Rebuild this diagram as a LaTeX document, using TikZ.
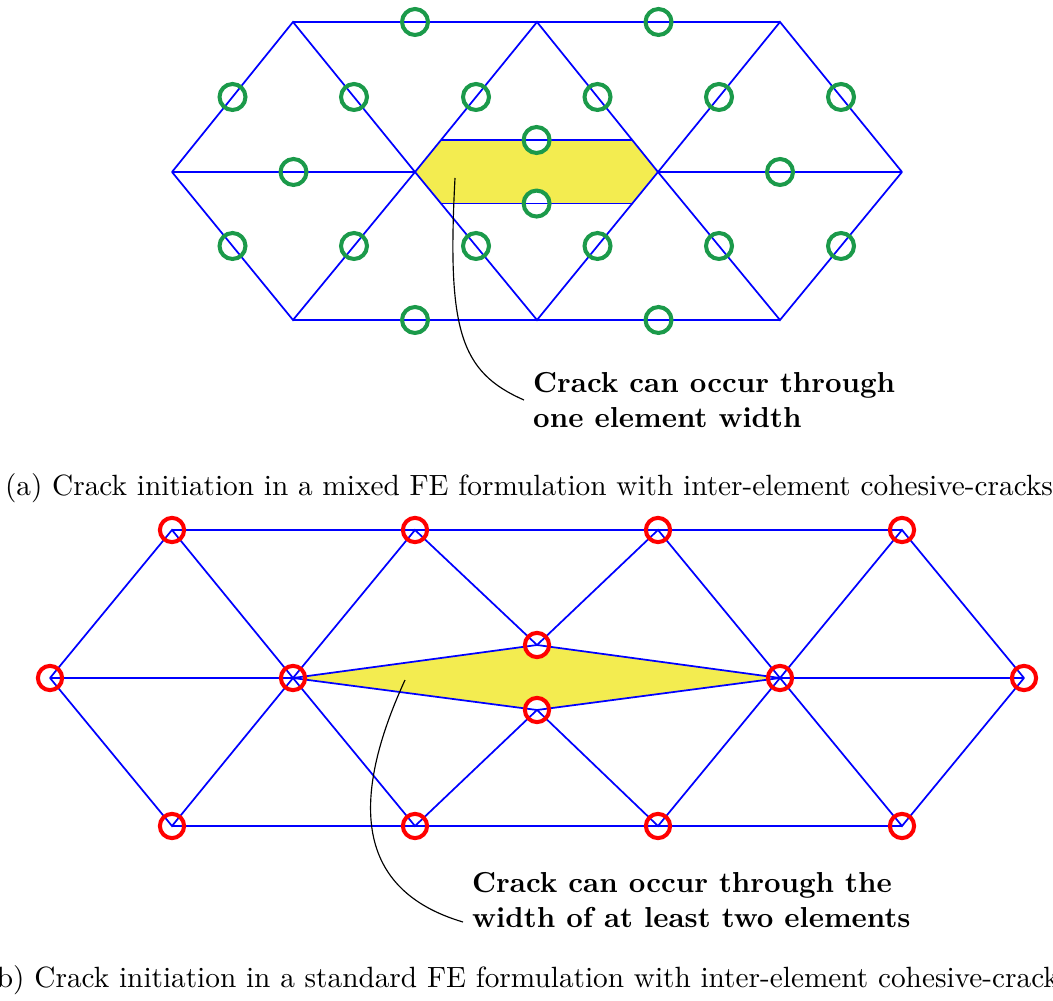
\documentclass[tikz,border=0pt]{standalone}
\usepackage{tikz}
\usetikzlibrary{calc, backgrounds}
\definecolor{meshblue}{HTML}{0000FF}
\definecolor{nodegreen}{HTML}{1B9A4A}
\definecolor{nodered}{HTML}{FF0000}
\definecolor{crackfill}{HTML}{F3EC50}
\tikzset{
  mesh/.style={draw=meshblue, line width=0.6pt},
  gnode/.style={circle, draw=nodegreen, line width=1.4pt, minimum size=9pt, inner sep=0pt},
  rnode/.style={circle, draw=nodered, line width=1.4pt, minimum size=8.4pt, inner sep=0pt},
  crack/.style={fill=crackfill},
  lbl/.style={font=\bfseries, align=left, inner sep=3pt},
  lead/.style={draw=black, line width=0.4pt},
  capt/.style={font=\fontsize{10.15pt}{12pt}\selectfont, inner sep=0pt},
}

\begin{document}
\begin{tikzpicture}[x=0.01218cm, y=-0.01218cm]
  \useasboundingbox (0,0) rectangle (1053,1001);

  % (a) mixed formulation
  \coordinate (T1) at (293,22);  \coordinate (T2) at (537,22);  \coordinate (T3) at (780,22);
  \coordinate (M0) at (172,172); \coordinate (M1) at (415,172);
  \coordinate (M2) at (658,172); \coordinate (M3) at (902,172);
  \coordinate (B1) at (293,320); \coordinate (B2) at (537,320); \coordinate (B3) at (780,320);
  \coordinate (CA1) at ($(M1)!0.2133!(T2)$); \coordinate (CA2) at ($(M2)!0.2133!(T2)$);
  \coordinate (CB1) at ($(M1)!0.2133!(B2)$); \coordinate (CB2) at ($(M2)!0.2133!(B2)$);

  \draw[mesh] (T1) -- (T3) (B1) -- (B3) (M0) -- (M1) (M2) -- (M3)
    (CA1) -- (CA2) (CB1) -- (CB2);
  \draw[mesh] (M0) -- (T1) -- (M1) -- (T2) -- (M2) -- (T3) -- (M3);
  \draw[mesh] (M0) -- (B1) -- (M1) -- (B2) -- (M2) -- (B3) -- (M3);

  \foreach \a/\b [count=\i] in {T1/T2, T2/T3, M0/T1, T1/M1, M1/T2, T2/M2, M2/T3, T3/M3,
      M0/M1, CA1/CA2, CB1/CB2, M2/M3, M0/B1, B1/M1, M1/B2, B2/M2, M2/B3, B3/M3, B1/B2, B2/B3}
    \node[gnode] (g\i) at ($(\a)!0.5!(\b)$) {};

  \node[lbl, anchor=west] (lblA) at (524,400) {Crack can occur through\\one element width};
  \coordinate (tipA) at (455,178);
  \draw[lead] (tipA) .. controls (447,330) and (460,372) .. (lblA.west);

  \node[capt] (captA) at (529,488)
    {(a) Crack initiation in a mixed FE formulation with inter-element cohesive-cracks};

  % (b) standard formulation
  \coordinate (P1) at (172,530); \coordinate (P2) at (415,530);
  \coordinate (P3) at (658,530); \coordinate (P4) at (902,530);
  \coordinate (Q0) at (50,678);  \coordinate (Q1) at (293,678);
  \coordinate (Qa) at (537,645); \coordinate (Qb) at (537,710);
  \coordinate (Q3) at (780,678); \coordinate (Q4) at (1024,678);
  \coordinate (R1) at (172,826); \coordinate (R2) at (415,826);
  \coordinate (R3) at (658,826); \coordinate (R4) at (902,826);

  \draw[mesh] (P1) -- (P4) (R1) -- (R4) (Q0) -- (Q1) (Q3) -- (Q4)
    (Q1) -- (Qa) -- (Q3) -- (Qb) -- cycle;
  \draw[mesh] (Q0) -- (P1) -- (Q1) -- (P2) -- (Qa) -- (P3) -- (Q3) -- (P4) -- (Q4);
  \draw[mesh] (Q0) -- (R1) -- (Q1) -- (R2) -- (Qb) -- (R3) -- (Q3) -- (R4) -- (Q4);

  \foreach \p [count=\i] in {P1, P2, P3, P4, Q0, Q1, Qa, Qb, Q3, Q4, R1, R2, R3, R4}
    \node[rnode] (r\i) at (\p) {};

  \node[lbl, anchor=west] (lblB) at (463,900)
    {Crack can occur through the\\width of at least two elements};
  \coordinate (tipB) at (405,680);
  \draw[lead] (tipB) .. controls (350,800) and (355,890)
    .. ($(lblB.south west)!0.2!(lblB.north west)$);

  \node[capt] (captB) at (528,980)
    {(b) Crack initiation in a standard FE formulation with inter-element cohesive-cracks};

  \begin{scope}[on background layer]
    \fill[crack] (M1) -- (CA1) -- (CA2) -- (M2) -- (CB2) -- (CB1) -- cycle;
    \fill[crack] (Q1) -- (Qa) -- (Q3) -- (Qb) -- cycle;
    \foreach \i in {1,...,20} \fill[white] (g\i) circle (4.5pt);
    \foreach \i in {1,...,14} \fill[white] (r\i) circle (4.2pt);
  \end{scope}
\end{tikzpicture}
\end{document}
